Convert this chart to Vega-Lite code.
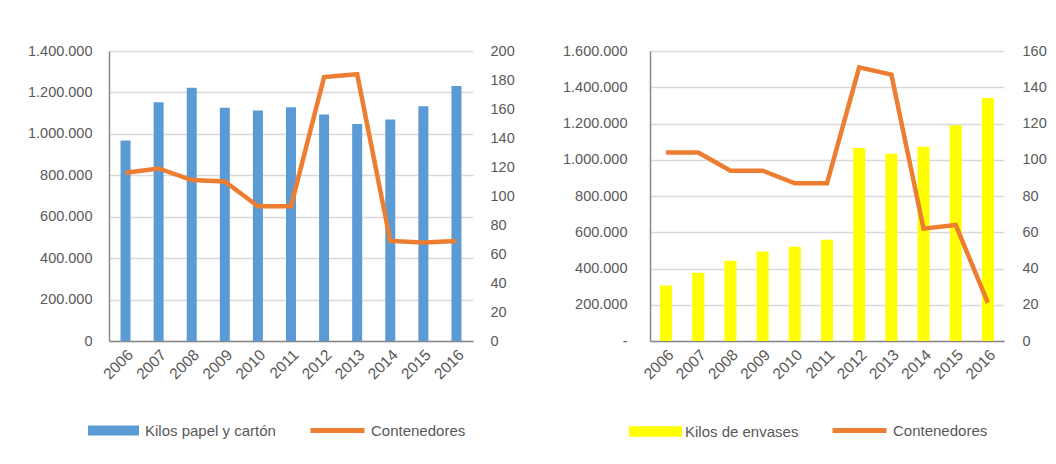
{
  "$schema": "https://vega.github.io/schema/vega-lite/v6.json",
  "padding": {"left": 27, "top": 43, "right": 0, "bottom": 0},
  "spacing": 47,
  "config": {
    "font": "Liberation Sans",
    "view": {"stroke": null},
    "axis": {
      "labelFont": "Liberation Sans",
      "labelFontSize": 14.5,
      "labelColor": "#595959",
      "ticks": false,
      "title": null,
      "gridColor": "#d9d9d9",
      "gridWidth": 1.5,
      "domainColor": "#898989",
      "domainWidth": 1.5
    },
    "legend": {
      "labelFont": "Liberation Sans",
      "labelFontSize": 15,
      "labelColor": "#595959",
      "padding": 0,
      "title": null
    }
  },
  "datasets": {
    "papel": [
      {"year": "2006", "kilos": 968000, "contenedores": 116},
      {"year": "2007", "kilos": 1152000, "contenedores": 119},
      {"year": "2008", "kilos": 1223000, "contenedores": 111},
      {"year": "2009", "kilos": 1126000, "contenedores": 110},
      {"year": "2010", "kilos": 1113000, "contenedores": 93},
      {"year": "2011", "kilos": 1129000, "contenedores": 93},
      {"year": "2012", "kilos": 1094000, "contenedores": 182},
      {"year": "2013", "kilos": 1048000, "contenedores": 184},
      {"year": "2014", "kilos": 1069000, "contenedores": 69},
      {"year": "2015", "kilos": 1133000, "contenedores": 68},
      {"year": "2016", "kilos": 1231000, "contenedores": 69}
    ],
    "envases": [
      {"year": "2006", "kilos": 306000, "contenedores": 104},
      {"year": "2007", "kilos": 376000, "contenedores": 104},
      {"year": "2008", "kilos": 443000, "contenedores": 94},
      {"year": "2009", "kilos": 494000, "contenedores": 94},
      {"year": "2010", "kilos": 520000, "contenedores": 87},
      {"year": "2011", "kilos": 559000, "contenedores": 87},
      {"year": "2012", "kilos": 1065000, "contenedores": 151},
      {"year": "2013", "kilos": 1033000, "contenedores": 147},
      {"year": "2014", "kilos": 1072000, "contenedores": 62},
      {"year": "2015", "kilos": 1190000, "contenedores": 64},
      {"year": "2016", "kilos": 1341000, "contenedores": 21}
    ]
  },
  "hconcat": [
    {
      "width": 364,
      "height": 290,
      "data": {"name": "papel"},
      "layer": [
        {
          "mark": {"type": "bar", "size": 10},
          "encoding": {
            "x": {"field": "year", "type": "ordinal", "sort": null,
                  "scale": {"paddingInner": 0, "paddingOuter": 0},
                  "axis": {"labelAngle": -45, "labelPadding": 6, "labelFontSize": 15.5, "grid": false, "domain": true}},
            "y": {"field": "kilos", "type": "quantitative",
                  "scale": {"domain": [0, 1400000], "nice": false},
                  "axis": {"orient": "left", "values": [0, 200000, 400000, 600000, 800000, 1000000, 1200000, 1400000],
                           "labelExpr": "replace(format(datum.value, ','), regexp(',', 'g'), '.')",
                           "grid": true, "domain": true, "labelPadding": 17}},
            "fill": {"datum": "Kilos papel y cartón", "type": "nominal",
                     "scale": {"range": ["#5B9BD5"]},
                     "legend": {"orient": "none", "legendX": -21, "legendY": 354,
                                "symbolType": "M-1,-0.2H1V0.2H-1Z", "symbolSize": 2601,
                                "symbolStrokeWidth": 0, "labelOffset": 6}}
          }
        },
        {
          "mark": {"type": "line", "strokeWidth": 4.5},
          "encoding": {
            "x": {"field": "year", "type": "ordinal", "sort": null},
            "y": {"field": "contenedores", "type": "quantitative",
                  "scale": {"domain": [0, 200], "nice": false},
                  "axis": {"orient": "right", "values": [0, 20, 40, 60, 80, 100, 120, 140, 160, 180, 200],
                           "grid": false, "domain": false, "labelPadding": 17}},
            "stroke": {"datum": "Contenedores", "type": "nominal",
                       "scale": {"range": ["#ED7D31"]},
                       "legend": {"orient": "none", "legendX": 199, "legendY": 350,
                                  "symbolType": "stroke", "symbolSize": 2916,
                                  "symbolStrokeWidth": 5, "labelOffset": 4}}
          }
        }
      ],
      "resolve": {"scale": {"y": "independent", "fill": "independent", "stroke": "independent"}}
    },
    {
      "width": 354,
      "height": 290,
      "data": {"name": "envases"},
      "layer": [
        {
          "mark": {"type": "bar", "size": 12},
          "encoding": {
            "x": {"field": "year", "type": "ordinal", "sort": null,
                  "scale": {"paddingInner": 0, "paddingOuter": 0},
                  "axis": {"labelAngle": -45, "labelPadding": 6, "labelFontSize": 15.5, "grid": false, "domain": true}},
            "y": {"field": "kilos", "type": "quantitative",
                  "scale": {"domain": [0, 1600000], "nice": false},
                  "axis": {"orient": "left", "values": [0, 200000, 400000, 600000, 800000, 1000000, 1200000, 1400000, 1600000],
                           "labelExpr": "datum.value == 0 ? '-\u00a0\u00a0' : replace(format(datum.value, ','), regexp(',', 'g'), '.')",
                           "grid": true, "domain": true, "labelPadding": 23}},
            "fill": {"datum": "Kilos de envases", "type": "nominal",
                     "scale": {"range": ["#FFFF00"]},
                     "legend": {"orient": "none", "legendX": -21, "legendY": 354,
                                "symbolType": "M-1,-0.2H1V0.2H-1Z", "symbolSize": 2809,
                                "symbolStrokeWidth": 0, "labelOffset": 3}}
          }
        },
        {
          "mark": {"type": "line", "strokeWidth": 4.5},
          "encoding": {
            "x": {"field": "year", "type": "ordinal", "sort": null},
            "y": {"field": "contenedores", "type": "quantitative",
                  "scale": {"domain": [0, 160], "nice": false},
                  "axis": {"orient": "right", "values": [0, 20, 40, 60, 80, 100, 120, 140, 160],
                           "grid": false, "domain": false, "labelPadding": 18}},
            "stroke": {"datum": "Contenedores", "type": "nominal",
                       "scale": {"range": ["#ED7D31"]},
                       "legend": {"orient": "none", "legendX": 180, "legendY": 350,
                                  "symbolType": "stroke", "symbolSize": 2916,
                                  "symbolStrokeWidth": 5, "labelOffset": 4}}
          }
        }
      ],
      "resolve": {"scale": {"y": "independent", "fill": "independent", "stroke": "independent"}}
    }
  ],
  "resolve": {"scale": {"fill": "independent", "stroke": "independent"}}
}
